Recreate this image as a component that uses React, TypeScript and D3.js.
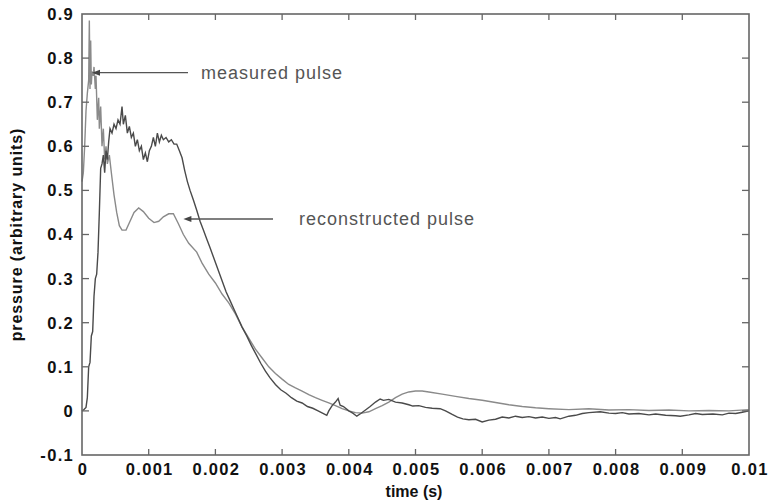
import React from "react";
import * as d3 from "d3";

// time in milliseconds (axis shows seconds)
const lightT = [0,0.02,0.04,0.06,0.08,0.1,0.11,0.12,0.13,0.14,0.15,0.17,0.18,0.2,0.21,0.23,0.25,0.26,0.28,0.3,0.32,0.34,0.36,0.38,0.41,0.44,0.48,0.52,0.56,0.6,0.66,0.72,0.78,0.85,0.92,1.0,1.08,1.15,1.22,1.3,1.37,1.44,1.52,1.6,1.72,1.8,1.9,2.0,2.1,2.2,2.3,2.4,2.5,2.6,2.7,2.8,2.9,3.0,3.1,3.2,3.3,3.4,3.5,3.6,3.7,3.8,3.9,4.0,4.1,4.2,4.3,4.4,4.5,4.6,4.7,4.8,4.9,5.0,5.1,5.2,5.4,5.6,5.8,6.0,6.2,6.4,6.6,6.8,7.0,7.3,7.6,7.9,8.2,8.5,8.8,9.1,9.4,9.7,10.0];
const lightV = [0.52,0.54,0.60,0.68,0.72,0.75,0.885,0.73,0.84,0.74,0.77,0.76,0.78,0.73,0.76,0.66,0.71,0.64,0.69,0.60,0.64,0.57,0.60,0.56,0.58,0.54,0.49,0.45,0.42,0.41,0.41,0.43,0.45,0.46,0.452,0.437,0.427,0.43,0.44,0.447,0.447,0.426,0.40,0.38,0.36,0.335,0.31,0.29,0.265,0.245,0.22,0.19,0.165,0.14,0.12,0.10,0.085,0.072,0.06,0.052,0.045,0.037,0.03,0.024,0.018,0.012,0.005,0.0,-0.004,-0.005,-0.002,0.005,0.012,0.02,0.03,0.038,0.043,0.045,0.045,0.043,0.038,0.033,0.028,0.024,0.019,0.014,0.010,0.007,0.005,0.003,0.005,0.002,0.003,0.001,0.002,0.0,0.001,0.0,0.003];

const darkT = [0,0.03,0.06,0.08,0.1,0.12,0.14,0.16,0.18,0.2,0.22,0.24,0.26,0.28,0.3,0.32,0.34,0.36,0.38,0.4,0.42,0.45,0.48,0.51,0.54,0.57,0.6,0.62,0.65,0.68,0.71,0.74,0.77,0.8,0.83,0.86,0.89,0.92,0.95,0.98,1.01,1.04,1.07,1.1,1.13,1.16,1.19,1.22,1.26,1.3,1.34,1.38,1.42,1.46,1.5,1.54,1.58,1.62,1.67,1.72,1.77,1.82,1.87,1.92,1.98,2.04,2.1,2.16,2.22,2.28,2.34,2.4,2.47,2.54,2.61,2.68,2.75,2.82,2.9,2.98,3.06,3.14,3.22,3.3,3.38,3.46,3.54,3.62,3.67,3.7,3.75,3.8,3.84,3.87,3.92,4.0,4.06,4.12,4.18,4.25,4.32,4.4,4.47,4.52,4.6,4.7,4.8,4.9,4.96,5.05,5.15,5.25,5.37,5.45,5.55,5.63,5.71,5.8,5.9,6.0,6.1,6.2,6.3,6.4,6.5,6.6,6.7,6.8,6.9,7.0,7.1,7.17,7.3,7.4,7.5,7.6,7.77,7.9,8.0,8.1,8.2,8.35,8.5,8.6,8.75,8.9,8.97,9.1,9.2,9.3,9.46,9.6,9.7,9.8,9.9,10.0];
const darkV = [0.0,0.003,0.008,0.03,0.1,0.11,0.17,0.18,0.26,0.30,0.31,0.36,0.45,0.55,0.56,0.58,0.54,0.59,0.57,0.61,0.64,0.63,0.65,0.64,0.66,0.65,0.69,0.65,0.67,0.63,0.645,0.62,0.63,0.60,0.615,0.59,0.60,0.57,0.585,0.565,0.59,0.6,0.62,0.6,0.63,0.61,0.625,0.615,0.62,0.61,0.615,0.605,0.605,0.59,0.574,0.545,0.52,0.5,0.478,0.455,0.43,0.41,0.39,0.37,0.345,0.32,0.295,0.27,0.25,0.23,0.21,0.19,0.17,0.148,0.128,0.108,0.09,0.075,0.06,0.048,0.04,0.03,0.022,0.018,0.01,0.006,0.0,-0.006,-0.01,0.0,0.012,0.02,0.028,0.013,0.01,0.0,-0.005,-0.012,-0.006,0.002,0.01,0.02,0.027,0.024,0.026,0.02,0.018,0.014,0.011,0.012,0.008,0.006,0.005,0.0,-0.008,-0.014,-0.018,-0.02,-0.019,-0.025,-0.021,-0.019,-0.014,-0.016,-0.012,-0.015,-0.013,-0.016,-0.014,-0.017,-0.015,-0.018,-0.012,-0.01,-0.006,-0.004,-0.002,-0.005,-0.006,-0.004,-0.007,-0.006,-0.009,-0.007,-0.01,-0.011,-0.012,-0.009,-0.006,-0.008,-0.007,-0.009,-0.005,-0.006,-0.003,0.0];

const xTicks = [0,1,2,3,4,5,6,7,8,9,10];
const xTickLabels = ["0","0.001","0.002","0.003","0.004","0.005","0.006","0.007","0.008","0.009","0.01"];
const yTicks = [-0.1,0,0.1,0.2,0.3,0.4,0.5,0.6,0.7,0.8,0.9];
const yTickLabels = ["-0.1","0","0.1","0.2","0.3","0.4","0.5","0.6","0.7","0.8","0.9"];

const annotations = [
  { text: "measured pulse", t: 0.15, v: 0.767, x2: 188, tx: 201 },
  { text: "reconstructed pulse", t: 1.52, v: 0.435, x2: 273, tx: 299 },
];

const W = 775, H = 503;
const L = 82, R = 749, T = 14, B = 455;
const AX = "#666";

export default function App() {
  const x = d3.scaleLinear().domain([0, 10]).range([L, R]);
  const y = d3.scaleLinear().domain([-0.1, 0.9]).range([B, T]);
  const line = d3.line<[number, number]>().x(d => x(d[0])).y(d => y(d[1]));
  const light = lightT.map((t, i) => [t, lightV[i]] as [number, number]);
  const dark = darkT.map((t, i) => [t, darkV[i]] as [number, number]);
  const tickFont = { fontFamily: "'Liberation Sans', Arial, sans-serif", fontWeight: 700, fontSize: 16.5, letterSpacing: 1.3, fill: "#111" } as const;
  return (
    <svg width={W} height={H} style={{ position: "absolute", left: 0, top: 0, background: "#fff" }}>
      <rect x={0} y={0} width={W} height={H} fill="#fff" />
      <path d={line(light) || ""} fill="none" stroke="#8a8a8a" strokeWidth={1.4} />
      <path d={line(dark) || ""} fill="none" stroke="#4a4a4a" strokeWidth={1.4} />
      <rect x={L} y={T} width={R - L} height={B - T} fill="none" stroke={AX} strokeWidth={1.6} />
      {xTicks.map((t, i) => (
        <g key={"x" + i}>
          {i > 0 && i < xTicks.length - 1 && (
            <>
              <line x1={x(t)} x2={x(t)} y1={B} y2={B - 6} stroke={AX} strokeWidth={1.3} />
              <line x1={x(t)} x2={x(t)} y1={T} y2={T + 6} stroke={AX} strokeWidth={1.3} />
            </>
          )}
          <text x={x(t) + 1} y={475} textAnchor="middle" {...tickFont}>{xTickLabels[i]}</text>
        </g>
      ))}
      {yTicks.map((v, i) => (
        <g key={"y" + i}>
          {i > 0 && i < yTicks.length - 1 && (
            <>
              <line x1={L} x2={L + 7} y1={y(v)} y2={y(v)} stroke={AX} strokeWidth={1.3} />
              <line x1={R} x2={R - 7} y1={y(v)} y2={y(v)} stroke={AX} strokeWidth={1.3} />
            </>
          )}
          <text x={74} y={y(v)} dy="0.36em" textAnchor="end" {...tickFont}>{yTickLabels[i]}</text>
        </g>
      ))}
      <text x={414} y={497} textAnchor="middle" fontFamily="'Liberation Sans', Arial, sans-serif" fontWeight={700} fontSize={16} fill="#111">time (s)</text>
      <text transform={`translate(22,${(T + B) / 2}) rotate(-90)`} textAnchor="middle" fontFamily="'Liberation Sans', Arial, sans-serif" fontWeight={700} fontSize={16} letterSpacing={0.9} fill="#111">pressure (arbitrary units)</text>
      {annotations.map((a, i) => {
        const ax = x(a.t), ay = y(a.v);
        return (
          <g key={"a" + i}>
            <line x1={ax + 5} x2={a.x2} y1={ay} y2={ay} stroke="#555" strokeWidth={1.4} />
            <path d={`M${ax},${ay} L${ax + 8},${ay - 3} L${ax + 8},${ay + 3} Z`} fill="#444" />
            <text x={a.tx} y={ay + 6} fontFamily="'Liberation Sans', Arial, sans-serif" fontSize={18} letterSpacing={1} fill="#555">{a.text}</text>
          </g>
        );
      })}
    </svg>
  );
}
